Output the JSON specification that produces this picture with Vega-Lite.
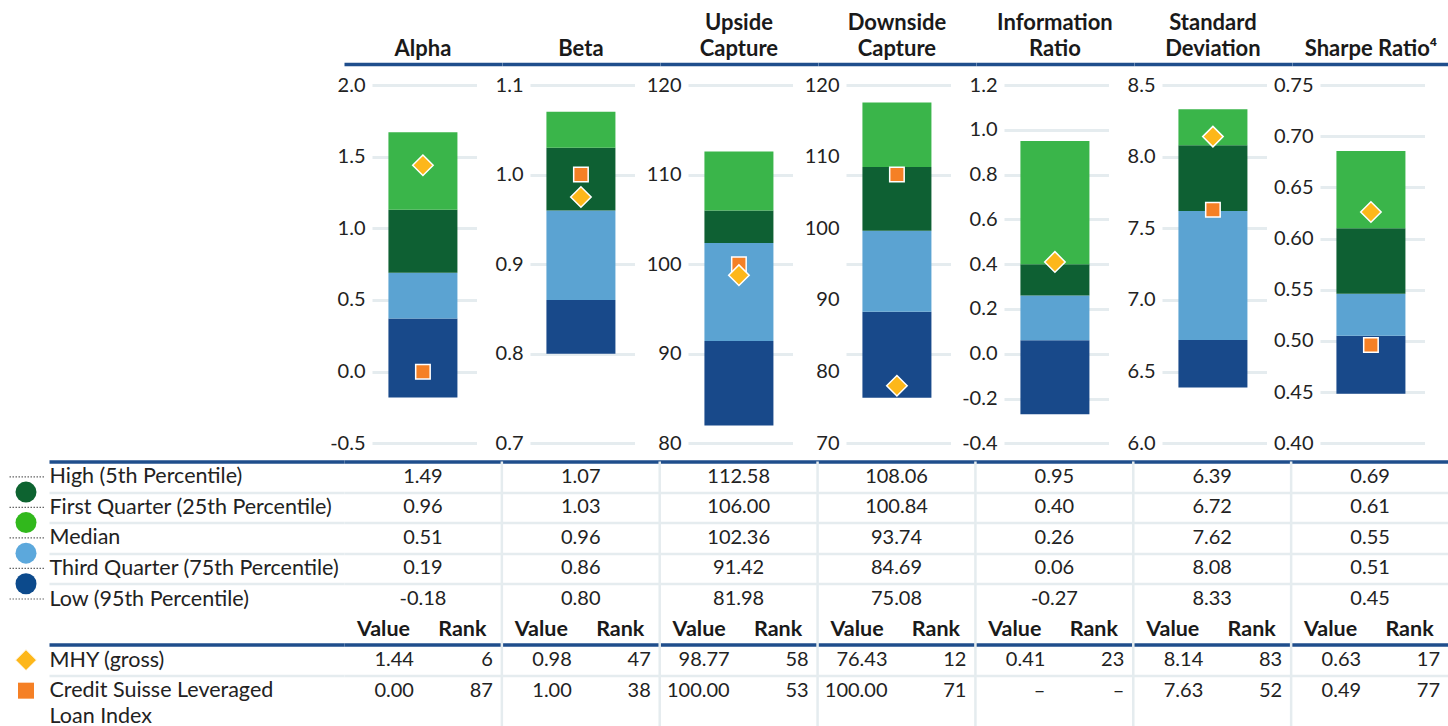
{
  "$schema": "https://vega.github.io/schema/vega-lite/v6.json",
  "background": "#ffffff",
  "padding": {"left": 7, "top": 11, "right": 0, "bottom": 0},
  "config": {
    "view": {"stroke": null},
    "font": "Lato",
    "locale": {"number": {"decimal": ".", "thousands": ",", "grouping": [3], "currency": ["$", ""], "minus": "-"}},
    "title": {"font": "Lato", "fontSize": 22, "fontWeight": "bold", "color": "#1a1a1a", "offset": 3, "frame": "group", "anchor": "middle", "lineHeight": 26.5},
    "axisX": {"labels": false, "ticks": false, "domain": true, "domainColor": "#1f4e8c", "domainWidth": 3.5, "offset": 21},
    "axisQuantitative": {"offset": -28, "domain": false, "grid": false, "ticks": true, "tickSize": -104.5, "tickWidth": 3, "tickColor": "#e5ecef", "labelPadding": 111.5, "labelOverlap": false, "labelFontSize": 20, "labelColor": "#222222", "labelFont": "Lato"}
  },
  "datasets": {
    "seg": [
      {"metric": "Alpha", "seg": "75th–95th", "lo": -0.18, "hi": 0.37},
      {"metric": "Alpha", "seg": "50th–75th", "lo": 0.37, "hi": 0.69},
      {"metric": "Alpha", "seg": "25th–50th", "lo": 0.69, "hi": 1.13},
      {"metric": "Alpha", "seg": "5th–25th", "lo": 1.13, "hi": 1.67},
      {"metric": "Beta", "seg": "75th–95th", "lo": 0.80, "hi": 0.86},
      {"metric": "Beta", "seg": "50th–75th", "lo": 0.86, "hi": 0.96},
      {"metric": "Beta", "seg": "25th–50th", "lo": 0.96, "hi": 1.03},
      {"metric": "Beta", "seg": "5th–25th", "lo": 1.03, "hi": 1.07},
      {"metric": "Upside Capture", "seg": "75th–95th", "lo": 81.98, "hi": 91.42},
      {"metric": "Upside Capture", "seg": "50th–75th", "lo": 91.42, "hi": 102.36},
      {"metric": "Upside Capture", "seg": "25th–50th", "lo": 102.36, "hi": 106.00},
      {"metric": "Upside Capture", "seg": "5th–25th", "lo": 106.00, "hi": 112.58},
      {"metric": "Downside Capture", "seg": "75th–95th", "lo": 75.08, "hi": 84.69},
      {"metric": "Downside Capture", "seg": "50th–75th", "lo": 84.69, "hi": 93.74},
      {"metric": "Downside Capture", "seg": "25th–50th", "lo": 93.74, "hi": 100.84},
      {"metric": "Downside Capture", "seg": "5th–25th", "lo": 100.84, "hi": 108.06},
      {"metric": "Information Ratio", "seg": "75th–95th", "lo": -0.27, "hi": 0.06},
      {"metric": "Information Ratio", "seg": "50th–75th", "lo": 0.06, "hi": 0.26},
      {"metric": "Information Ratio", "seg": "25th–50th", "lo": 0.26, "hi": 0.40},
      {"metric": "Information Ratio", "seg": "5th–25th", "lo": 0.40, "hi": 0.95},
      {"metric": "Standard Deviation", "seg": "75th–95th", "lo": 6.39, "hi": 6.72},
      {"metric": "Standard Deviation", "seg": "50th–75th", "lo": 6.72, "hi": 7.62},
      {"metric": "Standard Deviation", "seg": "25th–50th", "lo": 7.62, "hi": 8.08},
      {"metric": "Standard Deviation", "seg": "5th–25th", "lo": 8.08, "hi": 8.33},
      {"metric": "Sharpe Ratio", "seg": "75th–95th", "lo": 0.4485, "hi": 0.505},
      {"metric": "Sharpe Ratio", "seg": "50th–75th", "lo": 0.505, "hi": 0.546},
      {"metric": "Sharpe Ratio", "seg": "25th–50th", "lo": 0.546, "hi": 0.610},
      {"metric": "Sharpe Ratio", "seg": "5th–25th", "lo": 0.610, "hi": 0.6855}
    ],
    "mk": [
      {"metric": "Alpha", "series": "MHY", "value": 1.44},
      {"metric": "Alpha", "series": "CS", "value": 0.0},
      {"metric": "Beta", "series": "MHY", "value": 0.975},
      {"metric": "Beta", "series": "CS", "value": 1.0},
      {"metric": "Upside Capture", "series": "MHY", "value": 98.77},
      {"metric": "Upside Capture", "series": "CS", "value": 100.0},
      {"metric": "Downside Capture", "series": "MHY", "value": 76.43},
      {"metric": "Downside Capture", "series": "CS", "value": 100.0},
      {"metric": "Information Ratio", "series": "MHY", "value": 0.41},
      {"metric": "Standard Deviation", "series": "MHY", "value": 8.14},
      {"metric": "Standard Deviation", "series": "CS", "value": 7.63},
      {"metric": "Sharpe Ratio", "series": "MHY", "value": 0.626},
      {"metric": "Sharpe Ratio", "series": "CS", "value": 0.496}
    ],
    "pct": [
      {"metric": "Alpha", "row": "High (5th Percentile)", "text": "1.49"},
      {"metric": "Alpha", "row": "First Quarter (25th Percentile)", "text": "0.96"},
      {"metric": "Alpha", "row": "Median", "text": "0.51"},
      {"metric": "Alpha", "row": "Third Quarter (75th Percentile)", "text": "0.19"},
      {"metric": "Alpha", "row": "Low (95th Percentile)", "text": "-0.18"},
      {"metric": "Beta", "row": "High (5th Percentile)", "text": "1.07"},
      {"metric": "Beta", "row": "First Quarter (25th Percentile)", "text": "1.03"},
      {"metric": "Beta", "row": "Median", "text": "0.96"},
      {"metric": "Beta", "row": "Third Quarter (75th Percentile)", "text": "0.86"},
      {"metric": "Beta", "row": "Low (95th Percentile)", "text": "0.80"},
      {"metric": "Upside Capture", "row": "High (5th Percentile)", "text": "112.58"},
      {"metric": "Upside Capture", "row": "First Quarter (25th Percentile)", "text": "106.00"},
      {"metric": "Upside Capture", "row": "Median", "text": "102.36"},
      {"metric": "Upside Capture", "row": "Third Quarter (75th Percentile)", "text": "91.42"},
      {"metric": "Upside Capture", "row": "Low (95th Percentile)", "text": "81.98"},
      {"metric": "Downside Capture", "row": "High (5th Percentile)", "text": "108.06"},
      {"metric": "Downside Capture", "row": "First Quarter (25th Percentile)", "text": "100.84"},
      {"metric": "Downside Capture", "row": "Median", "text": "93.74"},
      {"metric": "Downside Capture", "row": "Third Quarter (75th Percentile)", "text": "84.69"},
      {"metric": "Downside Capture", "row": "Low (95th Percentile)", "text": "75.08"},
      {"metric": "Information Ratio", "row": "High (5th Percentile)", "text": "0.95"},
      {"metric": "Information Ratio", "row": "First Quarter (25th Percentile)", "text": "0.40"},
      {"metric": "Information Ratio", "row": "Median", "text": "0.26"},
      {"metric": "Information Ratio", "row": "Third Quarter (75th Percentile)", "text": "0.06"},
      {"metric": "Information Ratio", "row": "Low (95th Percentile)", "text": "-0.27"},
      {"metric": "Standard Deviation", "row": "High (5th Percentile)", "text": "6.39"},
      {"metric": "Standard Deviation", "row": "First Quarter (25th Percentile)", "text": "6.72"},
      {"metric": "Standard Deviation", "row": "Median", "text": "7.62"},
      {"metric": "Standard Deviation", "row": "Third Quarter (75th Percentile)", "text": "8.08"},
      {"metric": "Standard Deviation", "row": "Low (95th Percentile)", "text": "8.33"},
      {"metric": "Sharpe Ratio", "row": "High (5th Percentile)", "text": "0.69"},
      {"metric": "Sharpe Ratio", "row": "First Quarter (25th Percentile)", "text": "0.61"},
      {"metric": "Sharpe Ratio", "row": "Median", "text": "0.55"},
      {"metric": "Sharpe Ratio", "row": "Third Quarter (75th Percentile)", "text": "0.51"},
      {"metric": "Sharpe Ratio", "row": "Low (95th Percentile)", "text": "0.45"}
    ],
    "vr": [
      {"metric": "Alpha", "row": "hdr", "sub": "Value"}, {"metric": "Alpha", "row": "hdr", "sub": "Rank"},
      {"metric": "Beta", "row": "hdr", "sub": "Value"}, {"metric": "Beta", "row": "hdr", "sub": "Rank"},
      {"metric": "Upside Capture", "row": "hdr", "sub": "Value"}, {"metric": "Upside Capture", "row": "hdr", "sub": "Rank"},
      {"metric": "Downside Capture", "row": "hdr", "sub": "Value"}, {"metric": "Downside Capture", "row": "hdr", "sub": "Rank"},
      {"metric": "Information Ratio", "row": "hdr", "sub": "Value"}, {"metric": "Information Ratio", "row": "hdr", "sub": "Rank"},
      {"metric": "Standard Deviation", "row": "hdr", "sub": "Value"}, {"metric": "Standard Deviation", "row": "hdr", "sub": "Rank"},
      {"metric": "Sharpe Ratio", "row": "hdr", "sub": "Value"}, {"metric": "Sharpe Ratio", "row": "hdr", "sub": "Rank"}
    ],
    "mv": [
      {"metric": "Alpha", "row": "MHY (gross)", "sub": "Value", "text": "1.44"},
      {"metric": "Alpha", "row": "MHY (gross)", "sub": "Rank", "text": "6"},
      {"metric": "Alpha", "row": "Credit Suisse Leveraged", "sub": "Value", "text": "0.00"},
      {"metric": "Alpha", "row": "Credit Suisse Leveraged", "sub": "Rank", "text": "87"},
      {"metric": "Beta", "row": "MHY (gross)", "sub": "Value", "text": "0.98"},
      {"metric": "Beta", "row": "MHY (gross)", "sub": "Rank", "text": "47"},
      {"metric": "Beta", "row": "Credit Suisse Leveraged", "sub": "Value", "text": "1.00"},
      {"metric": "Beta", "row": "Credit Suisse Leveraged", "sub": "Rank", "text": "38"},
      {"metric": "Upside Capture", "row": "MHY (gross)", "sub": "Value", "text": "98.77"},
      {"metric": "Upside Capture", "row": "MHY (gross)", "sub": "Rank", "text": "58"},
      {"metric": "Upside Capture", "row": "Credit Suisse Leveraged", "sub": "Value", "text": "100.00"},
      {"metric": "Upside Capture", "row": "Credit Suisse Leveraged", "sub": "Rank", "text": "53"},
      {"metric": "Downside Capture", "row": "MHY (gross)", "sub": "Value", "text": "76.43"},
      {"metric": "Downside Capture", "row": "MHY (gross)", "sub": "Rank", "text": "12"},
      {"metric": "Downside Capture", "row": "Credit Suisse Leveraged", "sub": "Value", "text": "100.00"},
      {"metric": "Downside Capture", "row": "Credit Suisse Leveraged", "sub": "Rank", "text": "71"},
      {"metric": "Information Ratio", "row": "MHY (gross)", "sub": "Value", "text": "0.41"},
      {"metric": "Information Ratio", "row": "MHY (gross)", "sub": "Rank", "text": "23"},
      {"metric": "Information Ratio", "row": "Credit Suisse Leveraged", "sub": "Value", "text": "–"},
      {"metric": "Information Ratio", "row": "Credit Suisse Leveraged", "sub": "Rank", "text": "–"},
      {"metric": "Standard Deviation", "row": "MHY (gross)", "sub": "Value", "text": "8.14"},
      {"metric": "Standard Deviation", "row": "MHY (gross)", "sub": "Rank", "text": "83"},
      {"metric": "Standard Deviation", "row": "Credit Suisse Leveraged", "sub": "Value", "text": "7.63"},
      {"metric": "Standard Deviation", "row": "Credit Suisse Leveraged", "sub": "Rank", "text": "52"},
      {"metric": "Sharpe Ratio", "row": "MHY (gross)", "sub": "Value", "text": "0.63"},
      {"metric": "Sharpe Ratio", "row": "MHY (gross)", "sub": "Rank", "text": "17"},
      {"metric": "Sharpe Ratio", "row": "Credit Suisse Leveraged", "sub": "Value", "text": "0.49"},
      {"metric": "Sharpe Ratio", "row": "Credit Suisse Leveraged", "sub": "Rank", "text": "77"}
    ]
  },
  "spacing": 5.5,
  "resolve": {"scale": {"x": "independent", "y": "independent", "color": "independent"}},
  "vconcat": [
    {
      "spacing": 0,
      "bounds": "flush",
      "resolve": {"scale": {"x": "independent", "y": "independent", "color": "independent"}},
      "hconcat": [
        {"width": 336, "height": 358.3, "data": {"values": []}, "mark": "point"},
        {
          "width": 157.857, "height": 358.3, "title": {"text": "Alpha"},
          "layer": [
            {"data": {"name": "seg"}, "transform": [{"filter": {"field": "metric", "equal": "Alpha"}}],
             "mark": {"type": "bar", "width": 69},
             "encoding": {
               "x": {"field": "metric", "type": "nominal", "scale": {"paddingInner": 0, "paddingOuter": 0}, "axis": {"orient": "top", "title": null}},
               "y": {"field": "lo", "type": "quantitative", "scale": {"domain": [-0.5, 2], "nice": false, "zero": false}, "axis": {"title": null, "values": [-0.5, 0, 0.5, 1, 1.5, 2], "format": ".1f"}},
               "y2": {"field": "hi"},
               "color": {"field": "seg", "type": "nominal", "scale": {"domain": ["5th–25th", "25th–50th", "50th–75th", "75th–95th"], "range": ["#3ab54a", "#0e6033", "#5ba3d2", "#18498a"]}, "legend": null}}},
            {"data": {"name": "mk"}, "transform": [{"filter": {"field": "metric", "equal": "Alpha"}}, {"filter": {"field": "series", "equal": "CS"}}],
             "mark": {"type": "point", "shape": "square", "filled": true, "size": 210, "fill": "#f58025", "stroke": "#ffffff", "strokeWidth": 1.5, "opacity": 1},
             "encoding": {"x": {"field": "metric", "type": "nominal", "axis": {"orient": "top", "title": null}}, "y": {"field": "value", "type": "quantitative", "title": null}}},
            {"data": {"name": "mk"}, "transform": [{"filter": {"field": "metric", "equal": "Alpha"}}, {"filter": {"field": "series", "equal": "MHY"}}],
             "mark": {"type": "point", "shape": "diamond", "filled": true, "size": 420, "fill": "#fdb71a", "stroke": "#ffffff", "strokeWidth": 1.5, "opacity": 1},
             "encoding": {"x": {"field": "metric", "type": "nominal", "axis": {"orient": "top", "title": null}}, "y": {"field": "value", "type": "quantitative", "title": null}}}
          ]
        },
        {
          "width": 157.857, "height": 358.3, "title": {"text": "Beta"},
          "layer": [
            {"data": {"name": "seg"}, "transform": [{"filter": {"field": "metric", "equal": "Beta"}}],
             "mark": {"type": "bar", "width": 69},
             "encoding": {
               "x": {"field": "metric", "type": "nominal", "scale": {"paddingInner": 0, "paddingOuter": 0}, "axis": {"orient": "top", "title": null}},
               "y": {"field": "lo", "type": "quantitative", "scale": {"domain": [0.7, 1.1], "nice": false, "zero": false}, "axis": {"title": null, "values": [0.7, 0.8, 0.9, 1.0, 1.1], "format": ".1f"}},
               "y2": {"field": "hi"},
               "color": {"field": "seg", "type": "nominal", "scale": {"domain": ["5th–25th", "25th–50th", "50th–75th", "75th–95th"], "range": ["#3ab54a", "#0e6033", "#5ba3d2", "#18498a"]}, "legend": null}}},
            {"data": {"name": "mk"}, "transform": [{"filter": {"field": "metric", "equal": "Beta"}}, {"filter": {"field": "series", "equal": "CS"}}],
             "mark": {"type": "point", "shape": "square", "filled": true, "size": 210, "fill": "#f58025", "stroke": "#ffffff", "strokeWidth": 1.5, "opacity": 1},
             "encoding": {"x": {"field": "metric", "type": "nominal", "axis": {"orient": "top", "title": null}}, "y": {"field": "value", "type": "quantitative", "title": null}}},
            {"data": {"name": "mk"}, "transform": [{"filter": {"field": "metric", "equal": "Beta"}}, {"filter": {"field": "series", "equal": "MHY"}}],
             "mark": {"type": "point", "shape": "diamond", "filled": true, "size": 420, "fill": "#fdb71a", "stroke": "#ffffff", "strokeWidth": 1.5, "opacity": 1},
             "encoding": {"x": {"field": "metric", "type": "nominal", "axis": {"orient": "top", "title": null}}, "y": {"field": "value", "type": "quantitative", "title": null}}}
          ]
        },
        {
          "width": 157.857, "height": 358.3, "title": {"text": ["Upside", "Capture"]},
          "layer": [
            {"data": {"name": "seg"}, "transform": [{"filter": {"field": "metric", "equal": "Upside Capture"}}],
             "mark": {"type": "bar", "width": 69},
             "encoding": {
               "x": {"field": "metric", "type": "nominal", "scale": {"paddingInner": 0, "paddingOuter": 0}, "axis": {"orient": "top", "title": null}},
               "y": {"field": "lo", "type": "quantitative", "scale": {"domain": [80, 120], "nice": false, "zero": false}, "axis": {"title": null, "values": [80, 90, 100, 110, 120], "format": "d"}},
               "y2": {"field": "hi"},
               "color": {"field": "seg", "type": "nominal", "scale": {"domain": ["5th–25th", "25th–50th", "50th–75th", "75th–95th"], "range": ["#3ab54a", "#0e6033", "#5ba3d2", "#18498a"]}, "legend": null}}},
            {"data": {"name": "mk"}, "transform": [{"filter": {"field": "metric", "equal": "Upside Capture"}}, {"filter": {"field": "series", "equal": "CS"}}],
             "mark": {"type": "point", "shape": "square", "filled": true, "size": 210, "fill": "#f58025", "stroke": "#ffffff", "strokeWidth": 1.5, "opacity": 1},
             "encoding": {"x": {"field": "metric", "type": "nominal", "axis": {"orient": "top", "title": null}}, "y": {"field": "value", "type": "quantitative", "title": null}}},
            {"data": {"name": "mk"}, "transform": [{"filter": {"field": "metric", "equal": "Upside Capture"}}, {"filter": {"field": "series", "equal": "MHY"}}],
             "mark": {"type": "point", "shape": "diamond", "filled": true, "size": 420, "fill": "#fdb71a", "stroke": "#ffffff", "strokeWidth": 1.5, "opacity": 1},
             "encoding": {"x": {"field": "metric", "type": "nominal", "axis": {"orient": "top", "title": null}}, "y": {"field": "value", "type": "quantitative", "title": null}}}
          ]
        },
        {
          "width": 157.857, "height": 358.3, "title": {"text": ["Downside", "Capture"]},
          "layer": [
            {"data": {"name": "seg"}, "transform": [{"filter": {"field": "metric", "equal": "Downside Capture"}}],
             "mark": {"type": "bar", "width": 69},
             "encoding": {
               "x": {"field": "metric", "type": "nominal", "scale": {"paddingInner": 0, "paddingOuter": 0}, "axis": {"orient": "top", "title": null}},
               "y": {"field": "lo", "type": "quantitative", "scale": {"domain": [70, 110], "nice": false, "zero": false}, "axis": {"title": null, "values": [70, 78, 80, 86, 90, 94, 100, 102, 110], "tickOpacity": {"condition": {"test": "datum.value % 10 === 0", "value": 1}, "value": 0}, "labelExpr": "indexof([70, 78, 86, 94, 102, 110], datum.value) >= 0 ? format(70 + (datum.value - 70) * 1.25, 'd') : ''"}},
               "y2": {"field": "hi"},
               "color": {"field": "seg", "type": "nominal", "scale": {"domain": ["5th–25th", "25th–50th", "50th–75th", "75th–95th"], "range": ["#3ab54a", "#0e6033", "#5ba3d2", "#18498a"]}, "legend": null}}},
            {"data": {"name": "mk"}, "transform": [{"filter": {"field": "metric", "equal": "Downside Capture"}}, {"filter": {"field": "series", "equal": "CS"}}],
             "mark": {"type": "point", "shape": "square", "filled": true, "size": 210, "fill": "#f58025", "stroke": "#ffffff", "strokeWidth": 1.5, "opacity": 1},
             "encoding": {"x": {"field": "metric", "type": "nominal", "axis": {"orient": "top", "title": null}}, "y": {"field": "value", "type": "quantitative", "title": null}}},
            {"data": {"name": "mk"}, "transform": [{"filter": {"field": "metric", "equal": "Downside Capture"}}, {"filter": {"field": "series", "equal": "MHY"}}],
             "mark": {"type": "point", "shape": "diamond", "filled": true, "size": 420, "fill": "#fdb71a", "stroke": "#ffffff", "strokeWidth": 1.5, "opacity": 1},
             "encoding": {"x": {"field": "metric", "type": "nominal", "axis": {"orient": "top", "title": null}}, "y": {"field": "value", "type": "quantitative", "title": null}}}
          ]
        },
        {
          "width": 157.857, "height": 358.3, "title": {"text": ["Information", "Ratio"]},
          "layer": [
            {"data": {"name": "seg"}, "transform": [{"filter": {"field": "metric", "equal": "Information Ratio"}}],
             "mark": {"type": "bar", "width": 69},
             "encoding": {
               "x": {"field": "metric", "type": "nominal", "scale": {"paddingInner": 0, "paddingOuter": 0}, "axis": {"orient": "top", "title": null}},
               "y": {"field": "lo", "type": "quantitative", "scale": {"domain": [-0.4, 1.2], "nice": false, "zero": false}, "axis": {"title": null, "values": [-0.4, -0.2, 0, 0.2, 0.4, 0.6, 0.8, 1.0, 1.2], "format": ".1f"}},
               "y2": {"field": "hi"},
               "color": {"field": "seg", "type": "nominal", "scale": {"domain": ["5th–25th", "25th–50th", "50th–75th", "75th–95th"], "range": ["#3ab54a", "#0e6033", "#5ba3d2", "#18498a"]}, "legend": null}}},
            {"data": {"name": "mk"}, "transform": [{"filter": {"field": "metric", "equal": "Information Ratio"}}, {"filter": {"field": "series", "equal": "MHY"}}],
             "mark": {"type": "point", "shape": "diamond", "filled": true, "size": 420, "fill": "#fdb71a", "stroke": "#ffffff", "strokeWidth": 1.5, "opacity": 1},
             "encoding": {"x": {"field": "metric", "type": "nominal", "axis": {"orient": "top", "title": null}}, "y": {"field": "value", "type": "quantitative", "title": null}}}
          ]
        },
        {
          "width": 157.857, "height": 358.3, "title": {"text": ["Standard", "Deviation"]},
          "layer": [
            {"data": {"name": "seg"}, "transform": [{"filter": {"field": "metric", "equal": "Standard Deviation"}}],
             "mark": {"type": "bar", "width": 69},
             "encoding": {
               "x": {"field": "metric", "type": "nominal", "scale": {"paddingInner": 0, "paddingOuter": 0}, "axis": {"orient": "top", "title": null}},
               "y": {"field": "lo", "type": "quantitative", "scale": {"domain": [6, 8.5], "nice": false, "zero": false}, "axis": {"title": null, "values": [6, 6.5, 7, 7.5, 8, 8.5], "format": ".1f"}},
               "y2": {"field": "hi"},
               "color": {"field": "seg", "type": "nominal", "scale": {"domain": ["5th–25th", "25th–50th", "50th–75th", "75th–95th"], "range": ["#3ab54a", "#0e6033", "#5ba3d2", "#18498a"]}, "legend": null}}},
            {"data": {"name": "mk"}, "transform": [{"filter": {"field": "metric", "equal": "Standard Deviation"}}, {"filter": {"field": "series", "equal": "CS"}}],
             "mark": {"type": "point", "shape": "square", "filled": true, "size": 210, "fill": "#f58025", "stroke": "#ffffff", "strokeWidth": 1.5, "opacity": 1},
             "encoding": {"x": {"field": "metric", "type": "nominal", "axis": {"orient": "top", "title": null}}, "y": {"field": "value", "type": "quantitative", "title": null}}},
            {"data": {"name": "mk"}, "transform": [{"filter": {"field": "metric", "equal": "Standard Deviation"}}, {"filter": {"field": "series", "equal": "MHY"}}],
             "mark": {"type": "point", "shape": "diamond", "filled": true, "size": 420, "fill": "#fdb71a", "stroke": "#ffffff", "strokeWidth": 1.5, "opacity": 1},
             "encoding": {"x": {"field": "metric", "type": "nominal", "axis": {"orient": "top", "title": null}}, "y": {"field": "value", "type": "quantitative", "title": null}}}
          ]
        },
        {
          "width": 157.857, "height": 358.3, "title": {"text": "Sharpe Ratio⁴"},
          "layer": [
            {"data": {"name": "seg"}, "transform": [{"filter": {"field": "metric", "equal": "Sharpe Ratio"}}],
             "mark": {"type": "bar", "width": 69},
             "encoding": {
               "x": {"field": "metric", "type": "nominal", "scale": {"paddingInner": 0, "paddingOuter": 0}, "axis": {"orient": "top", "title": null}},
               "y": {"field": "lo", "type": "quantitative", "scale": {"domain": [0.4, 0.75], "nice": false, "zero": false}, "axis": {"title": null, "values": [0.4, 0.45, 0.5, 0.55, 0.6, 0.65, 0.7, 0.75], "format": ".2f"}},
               "y2": {"field": "hi"},
               "color": {"field": "seg", "type": "nominal", "scale": {"domain": ["5th–25th", "25th–50th", "50th–75th", "75th–95th"], "range": ["#3ab54a", "#0e6033", "#5ba3d2", "#18498a"]}, "legend": null}}},
            {"data": {"name": "mk"}, "transform": [{"filter": {"field": "metric", "equal": "Sharpe Ratio"}}, {"filter": {"field": "series", "equal": "CS"}}],
             "mark": {"type": "point", "shape": "square", "filled": true, "size": 210, "fill": "#f58025", "stroke": "#ffffff", "strokeWidth": 1.5, "opacity": 1},
             "encoding": {"x": {"field": "metric", "type": "nominal", "axis": {"orient": "top", "title": null}}, "y": {"field": "value", "type": "quantitative", "title": null}}},
            {"data": {"name": "mk"}, "transform": [{"filter": {"field": "metric", "equal": "Sharpe Ratio"}}, {"filter": {"field": "series", "equal": "MHY"}}],
             "mark": {"type": "point", "shape": "diamond", "filled": true, "size": 420, "fill": "#fdb71a", "stroke": "#ffffff", "strokeWidth": 1.5, "opacity": 1},
             "encoding": {"x": {"field": "metric", "type": "nominal", "axis": {"orient": "top", "title": null}}, "y": {"field": "value", "type": "quantitative", "title": null}}}
          ]
        }
      ]
    },
    {
      "spacing": 300,
      "bounds": "flush",
      "resolve": {"scale": {"x": "independent", "y": "independent", "color": "independent"}},
      "hconcat": [
        {
          "width": 36, "height": 275,
          "layer": [
            {"data": {"values": [{"row": "High (5th Percentile)"}, {"row": "First Quarter (25th Percentile)"}, {"row": "Median"}, {"row": "Third Quarter (75th Percentile)"}, {"row": "Low (95th Percentile)"}]},
             "mark": {"type": "rule", "color": "#666666", "strokeDash": [1.5, 1.5], "strokeWidth": 1.2},
             "encoding": {"y": {"field": "row", "type": "nominal", "scale": {"type": "band", "domain": ["High (5th Percentile)", "First Quarter (25th Percentile)", "Median", "Third Quarter (75th Percentile)", "Low (95th Percentile)", "hdr", "MHY (gross)", "Credit Suisse Leveraged", "Loan Index"], "paddingInner": 0, "paddingOuter": 0}, "axis": null}}},
            {"data": {"values": [{"row": "First Quarter (25th Percentile)", "band": "5th–25th"}, {"row": "Median", "band": "25th–50th"}, {"row": "Third Quarter (75th Percentile)", "band": "50th–75th"}, {"row": "Low (95th Percentile)", "band": "75th–95th"}]},
             "mark": {"type": "point", "shape": "circle", "filled": true, "size": 441, "opacity": 1},
             "encoding": {"y": {"field": "row", "type": "nominal", "bandPosition": 0, "scale": {"type": "band", "domain": ["High (5th Percentile)", "First Quarter (25th Percentile)", "Median", "Third Quarter (75th Percentile)", "Low (95th Percentile)", "hdr", "MHY (gross)", "Credit Suisse Leveraged", "Loan Index"], "paddingInner": 0, "paddingOuter": 0}, "axis": null},
                          "color": {"field": "band", "type": "nominal", "scale": {"domain": ["5th–25th", "25th–50th", "50th–75th", "75th–95th"], "range": ["#0d6330", "#31b81c", "#5ca8dc", "#0c4a8c"]}, "legend": null}}},
            {"data": {"values": [{"row": "MHY (gross)"}]},
             "mark": {"type": "point", "shape": "diamond", "filled": true, "size": 440, "fill": "#fdb71a", "stroke": "#ffffff", "strokeWidth": 1, "opacity": 1},
             "encoding": {"y": {"field": "row", "type": "nominal", "scale": {"type": "band", "domain": ["High (5th Percentile)", "First Quarter (25th Percentile)", "Median", "Third Quarter (75th Percentile)", "Low (95th Percentile)", "hdr", "MHY (gross)", "Credit Suisse Leveraged", "Loan Index"], "paddingInner": 0, "paddingOuter": 0}, "axis": null}}},
            {"data": {"values": [{"row": "Credit Suisse Leveraged"}]},
             "mark": {"type": "point", "shape": "square", "filled": true, "size": 256, "fill": "#f58025", "opacity": 1},
             "encoding": {"y": {"field": "row", "type": "nominal", "scale": {"type": "band", "domain": ["High (5th Percentile)", "First Quarter (25th Percentile)", "Median", "Third Quarter (75th Percentile)", "Low (95th Percentile)", "hdr", "MHY (gross)", "Credit Suisse Leveraged", "Loan Index"], "paddingInner": 0, "paddingOuter": 0}, "axis": null}}}
          ]
        },
        {
          "width": 1105, "height": 275,
          "layer": [
            {"data": {"values": [{"metric": "Beta"}, {"metric": "Upside Capture"}, {"metric": "Downside Capture"}, {"metric": "Information Ratio"}, {"metric": "Standard Deviation"}, {"metric": "Sharpe Ratio"}]},
             "mark": {"type": "rule", "color": "#e5ecef", "strokeWidth": 2.5},
             "encoding": {"x": {"field": "metric", "type": "nominal", "bandPosition": 0, "scale": {"type": "band", "domain": ["Alpha", "Beta", "Upside Capture", "Downside Capture", "Information Ratio", "Standard Deviation", "Sharpe Ratio"], "paddingInner": 0, "paddingOuter": 0}, "axis": null}}},
            {"data": {"name": "pct"},
             "mark": {"type": "text", "fontSize": 20, "color": "#222222", "font": "Lato"},
             "encoding": {
               "x": {"field": "metric", "type": "nominal", "scale": {"type": "band", "domain": ["Alpha", "Beta", "Upside Capture", "Downside Capture", "Information Ratio", "Standard Deviation", "Sharpe Ratio"], "paddingInner": 0, "paddingOuter": 0}, "axis": null},
               "y": {"field": "row", "type": "nominal", "scale": {"type": "band", "domain": ["High (5th Percentile)", "First Quarter (25th Percentile)", "Median", "Third Quarter (75th Percentile)", "Low (95th Percentile)", "hdr", "MHY (gross)", "Credit Suisse Leveraged", "Loan Index"], "paddingInner": 0, "paddingOuter": 0},
                     "axis": {"title": null, "domain": false, "ticks": true, "tickSize": 295, "tickOffset": -15.275,
                              "labelOffset": {"condition": {"test": "datum.value === 'Loan Index'", "value": 10.5}, "value": 15.275},
                              "tickColor": {"condition": {"test": "datum.value === 'High (5th Percentile)' || datum.value === 'MHY (gross)'", "value": "#1f4e8c"}, "value": "#e5ecef"},
                              "tickWidth": {"condition": {"test": "datum.value === 'High (5th Percentile)' || datum.value === 'MHY (gross)'", "value": 3.5}, "value": 2.5},
                              "tickOpacity": {"condition": {"test": "datum.value === 'hdr' || datum.value === 'Loan Index'", "value": 0}, "value": 1},
                              "grid": true,
                              "gridColor": {"condition": {"test": "datum.value === 'High (5th Percentile)' || datum.value === 'MHY (gross)'", "value": "#1f4e8c"}, "value": "#e5ecef"},
                              "gridWidth": {"condition": {"test": "datum.value === 'High (5th Percentile)' || datum.value === 'MHY (gross)'", "value": 3.5}, "value": 2.5},
                              "gridOpacity": {"condition": {"test": "datum.value === 'hdr' || datum.value === 'Loan Index'", "value": 0}, "value": 1},
                              "labelAlign": "left", "labelPadding": 0, "labelLimit": 0, "labelOverlap": false,
                              "labelExpr": "datum.value === 'hdr' ? '' : datum.value",
                              "labelFont": "Lato", "labelFontSize": 21.5, "labelColor": "#222222"}},
               "text": {"field": "text"}}},
            {"data": {"name": "vr"},
             "mark": {"type": "text", "fontSize": 21.5, "fontWeight": "bold", "color": "#1a1a1a", "font": "Lato"},
             "encoding": {
               "x": {"field": "metric", "type": "nominal", "scale": {"type": "band", "domain": ["Alpha", "Beta", "Upside Capture", "Downside Capture", "Information Ratio", "Standard Deviation", "Sharpe Ratio"], "paddingInner": 0, "paddingOuter": 0}, "axis": null},
               "xOffset": {"field": "sub", "type": "nominal", "scale": {"type": "band", "domain": ["Value", "Rank"], "paddingInner": 0, "paddingOuter": 0}},
               "y": {"field": "row", "type": "nominal", "scale": {"type": "band", "domain": ["High (5th Percentile)", "First Quarter (25th Percentile)", "Median", "Third Quarter (75th Percentile)", "Low (95th Percentile)", "hdr", "MHY (gross)", "Credit Suisse Leveraged", "Loan Index"], "paddingInner": 0, "paddingOuter": 0}},
               "text": {"field": "sub"}}},
            {"data": {"name": "mv"},
             "mark": {"type": "text", "fontSize": 20, "color": "#222222", "font": "Lato", "align": "right", "dx": 30.5},
             "encoding": {
               "x": {"field": "metric", "type": "nominal", "scale": {"type": "band", "domain": ["Alpha", "Beta", "Upside Capture", "Downside Capture", "Information Ratio", "Standard Deviation", "Sharpe Ratio"], "paddingInner": 0, "paddingOuter": 0}, "axis": null},
               "xOffset": {"field": "sub", "type": "nominal", "scale": {"type": "band", "domain": ["Value", "Rank"], "paddingInner": 0, "paddingOuter": 0}},
               "y": {"field": "row", "type": "nominal", "scale": {"type": "band", "domain": ["High (5th Percentile)", "First Quarter (25th Percentile)", "Median", "Third Quarter (75th Percentile)", "Low (95th Percentile)", "hdr", "MHY (gross)", "Credit Suisse Leveraged", "Loan Index"], "paddingInner": 0, "paddingOuter": 0}},
               "text": {"field": "text"}}}
          ]
        }
      ]
    }
  ]
}
